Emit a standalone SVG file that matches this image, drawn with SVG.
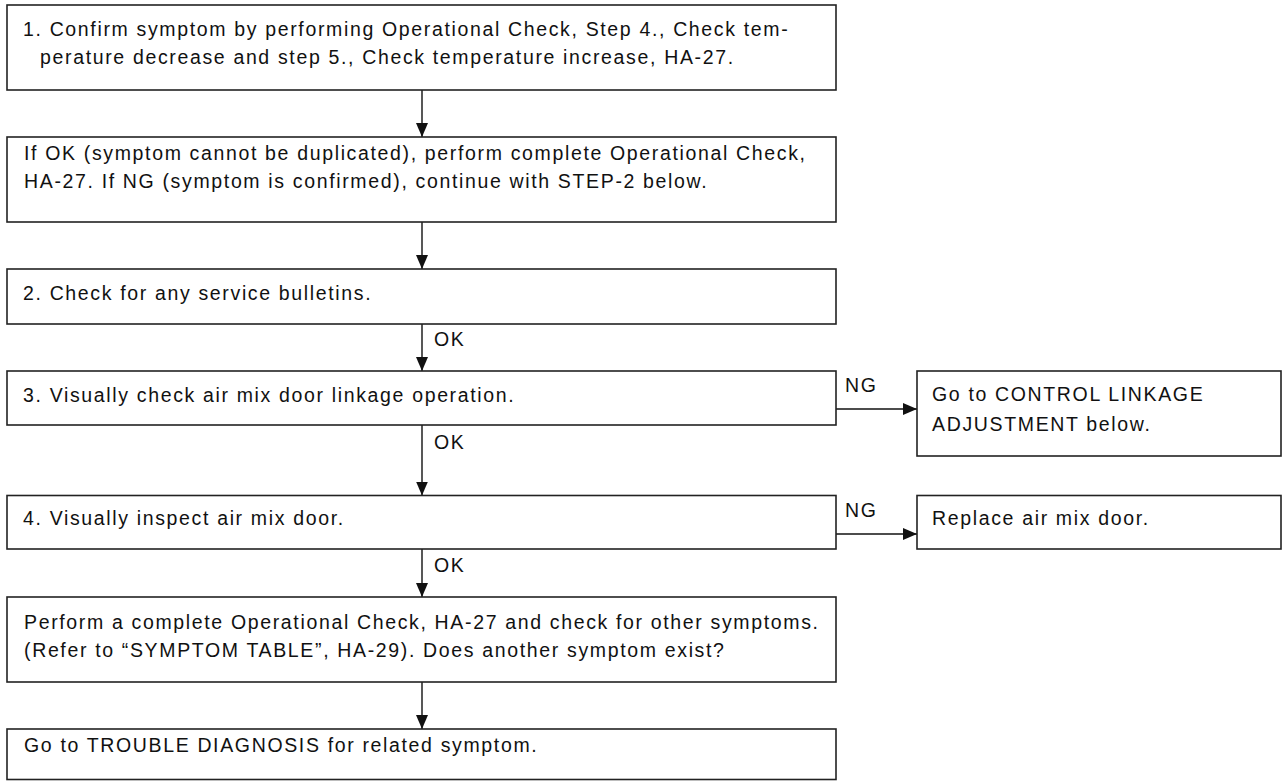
<svg xmlns="http://www.w3.org/2000/svg" width="1284" height="781" viewBox="0 0 1284 781">
<style>
.box{fill:#fff;stroke:#222;stroke-width:1.6}
.t{font-family:"Liberation Sans",Arial,Helvetica,sans-serif;font-size:19.5px;letter-spacing:1.65px;fill:#111}
.c{stroke:#111;stroke-width:1.4;fill:none}
</style>
<defs>
<marker id="ah" markerUnits="userSpaceOnUse" markerWidth="14" markerHeight="12" refX="14" refY="6" orient="auto">
<path d="M0,0 L14,6 L0,12 Z" fill="#111"/>
</marker>
</defs>
<rect width="1284" height="781" fill="#fff"/>
<g id="connectors">
<line class="c" x1="422" y1="90" x2="422" y2="137" marker-end="url(#ah)"/>
<line class="c" x1="422" y1="222" x2="422" y2="269" marker-end="url(#ah)"/>
<line class="c" x1="422" y1="324" x2="422" y2="371" marker-end="url(#ah)"/>
<text class="t" x="434" y="346">OK</text>
<line class="c" x1="422" y1="425" x2="422" y2="495.5" marker-end="url(#ah)"/>
<text class="t" x="434" y="449">OK</text>
<line class="c" x1="422" y1="549" x2="422" y2="597" marker-end="url(#ah)"/>
<text class="t" x="434" y="572">OK</text>
<line class="c" x1="422" y1="682" x2="422" y2="729" marker-end="url(#ah)"/>
<line class="c" x1="836" y1="409" x2="917" y2="409" marker-end="url(#ah)"/>
<text class="t" x="845" y="392">NG</text>
<line class="c" x1="836" y1="534" x2="917" y2="534" marker-end="url(#ah)"/>
<text class="t" x="845" y="517">NG</text>
</g>
<g id="step1">
<rect class="box" x="7" y="5" width="829" height="85"/>
<text class="t" x="23" y="36">1. Confirm symptom by performing Operational Check, Step 4., Check tem-</text>
<text class="t" x="40" y="64">perature decrease and step 5., Check temperature increase, HA-27.</text>
</g>
<g id="ifok">
<rect class="box" x="7" y="137" width="829" height="85"/>
<text class="t" x="24" y="160">If OK (symptom cannot be duplicated), perform complete Operational Check,</text>
<text class="t" x="24" y="188">HA-27. If NG (symptom is confirmed), continue with STEP-2 below.</text>
</g>
<g id="step2">
<rect class="box" x="7" y="269" width="829" height="55"/>
<text class="t" x="23" y="300">2. Check for any service bulletins.</text>
</g>
<g id="step3">
<rect class="box" x="7" y="371" width="829" height="54"/>
<text class="t" x="23" y="402">3. Visually check air mix door linkage operation.</text>
</g>
<g id="control">
<rect class="box" x="917" y="371" width="364" height="85"/>
<text class="t" x="932" y="401">Go to CONTROL LINKAGE</text>
<text class="t" x="932" y="431">ADJUSTMENT below.</text>
</g>
<g id="step4">
<rect class="box" x="7" y="495.5" width="829" height="53.5"/>
<text class="t" x="23" y="525">4. Visually inspect air mix door.</text>
</g>
<g id="replace">
<rect class="box" x="917" y="495.5" width="364" height="53.5"/>
<text class="t" x="932" y="525">Replace air mix door.</text>
</g>
<g id="perform">
<rect class="box" x="7" y="597" width="829" height="85"/>
<text class="t" x="24" y="629">Perform a complete Operational Check, HA-27 and check for other symptoms.</text>
<text class="t" x="24" y="657">(Refer to “SYMPTOM TABLE”, HA-29). Does another symptom exist?</text>
</g>
<g id="goto">
<rect class="box" x="7" y="729" width="829" height="50.5"/>
<text class="t" x="24" y="752">Go to TROUBLE DIAGNOSIS for related symptom.</text>
</g>
</svg>
